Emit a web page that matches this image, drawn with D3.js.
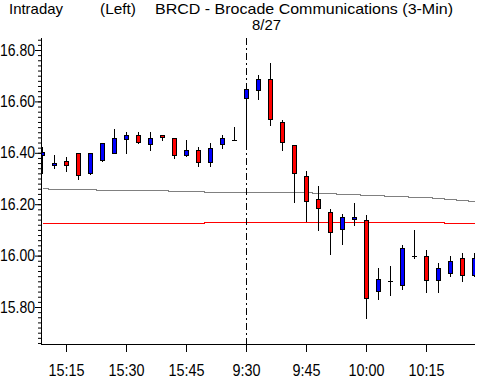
<!DOCTYPE html>
<html><head><meta charset="utf-8">
<script src="https://cdn.jsdelivr.net/npm/d3@7"></script>
<style>body{margin:0;background:#fff} svg{display:block}</style>
</head><body>
<svg id="c" width="483" height="381"></svg>
<script>
// ---- data ----
const times = ["15:09","15:12","15:15","15:18","15:21","15:24","15:27","15:30","15:33","15:36","15:39","15:42","15:45","15:48","15:51","15:54","15:57",
               "9:30","9:33","9:36","9:39","9:42","9:45","9:48","9:51","9:54","9:57","10:00","10:03","10:06","10:09","10:12","10:15","10:18","10:21","10:24","10:27"];
const open  = [16.392,16.353,16.370,16.400,16.321,16.373,16.401,16.455,16.470,16.435,16.470,16.459,16.391,16.412,16.365,16.435,16.451,
               16.613,16.646,16.689,16.521,16.431,16.311,16.221,16.170,16.102,16.141,16.139,15.861,15.901,15.886,15.999,15.999,15.904,15.932,15.991,15.925];
const high  = [16.424,16.390,16.382,16.400,16.400,16.439,16.491,16.482,16.482,16.482,16.470,16.459,16.451,16.421,16.439,16.471,16.501,
               16.649,16.701,16.751,16.529,16.431,16.331,16.272,16.183,16.160,16.203,16.158,15.953,15.961,16.043,16.101,16.023,15.971,16.000,16.010,16.010];
const low   = [16.320,16.342,16.330,16.299,16.317,16.369,16.399,16.399,16.439,16.412,16.451,16.379,16.387,16.348,16.348,16.420,16.451,
               16.443,16.611,16.508,16.410,16.208,16.136,16.101,16.008,16.047,16.118,15.759,15.830,15.848,15.869,15.991,15.857,15.857,15.919,15.901,15.920];
const close = [16.403,16.362,16.353,16.314,16.400,16.439,16.459,16.470,16.443,16.459,16.462,16.392,16.412,16.365,16.420,16.459,16.451,
               16.649,16.689,16.533,16.443,16.322,16.213,16.184,16.091,16.151,16.151,15.834,15.909,15.901,16.031,15.999,15.904,15.953,15.979,15.925,15.992];
const avgLine = [16.263,16.259,16.259,16.259,16.259,16.255,16.255,16.255,16.255,16.255,16.255,16.251,16.251,16.251,16.2475,16.2475,16.2475,
                 16.2475,16.2475,16.2475,16.2475,16.2475,16.2475,16.2436,16.2436,16.2397,16.2397,16.2358,16.2358,16.2319,16.2319,16.228,16.228,16.2241,16.2202,16.2163,16.2125];
const refLine = [16.127,16.127,16.127,16.127,16.127,16.127,16.127,16.127,16.127,16.127,16.127,16.127,16.127,16.127,16.131,16.131,16.131,
                 16.131,16.131,16.131,16.131,16.131,16.131,16.131,16.131,16.131,16.131,16.131,16.131,16.131,16.131,16.131,16.131,16.131,16.127,16.127,16.127];
const xTickLabels = ["15:15","15:30","15:45","9:30","9:45","10:00","10:15"];
const yTickValues = [15.8,16.0,16.2,16.4,16.6,16.8];
const sessionBreak = "9:30";
const titleLeft = "Intraday", titleMid = "(Left)", titleMain = "BRCD - Brocade Communications (3-Min)", dateLabel = "8/27";

// ---- layout ----
const L = 41, R = 475, T = 38, B = 344;
const FONT = "'Liberation Sans', Arial, sans-serif";
const svg = d3.select("#c");
const x = d3.scalePoint().domain(times).range([42, 474]);
const y = d3.scaleLinear().domain([15.8, 16.8]).range([307, 50]);
const py = v => Math.round(y(v));

svg.append("defs").append("clipPath").attr("id","clip")
  .append("rect").attr("x", L).attr("y", T).attr("width", R - L).attr("height", B - T);
const plot = svg.append("g").attr("clip-path","url(#clip)");

// lines
const mkLine = d3.line().x((d,i)=>x(times[i]) + 0.5).y(d=>py(d) + 0.5).curve(d3.curveStep);
plot.append("path").attr("d", mkLine(avgLine)).attr("fill","none").attr("stroke","#808080").attr("stroke-width",1).attr("shape-rendering","crispEdges");
plot.append("path").attr("d", mkLine(refLine)).attr("fill","none").attr("stroke","#ff0000").attr("stroke-width",1).attr("shape-rendering","crispEdges");

// session break
plot.append("line").attr("x1", x(sessionBreak)+0.5).attr("x2", x(sessionBreak)+0.5).attr("y1", T).attr("y2", B)
  .attr("stroke","#000").attr("stroke-dasharray","7,3,2,3").attr("shape-rendering","crispEdges");

// candles
const idx = d3.range(times.length);
const cg = plot.append("g").attr("shape-rendering","crispEdges");
idx.forEach(i => {
  const cx = x(times[i]);
  cg.append("line").attr("x1", cx+0.5).attr("x2", cx+0.5).attr("y1", py(high[i])).attr("y2", py(low[i])+1).attr("stroke","#000");
  if (open[i] === close[i]) {
    cg.append("line").attr("x1", cx-2).attr("x2", cx+3).attr("y1", py(close[i])+0.5).attr("y2", py(close[i])+0.5).attr("stroke","#000");
  } else {
    const top = py(Math.max(open[i], close[i])), bot = py(Math.min(open[i], close[i]));
    cg.append("rect").attr("x", cx-2+0.5).attr("y", top+0.5).attr("width", 4).attr("height", Math.max(bot-top,1))
      .attr("fill", close[i] > open[i] ? "#0000ff" : "#ff0000").attr("stroke","#000").attr("stroke-width",1);
  }
});

// axes
const yAxis = svg.append("g").attr("transform", `translate(${L},0)`)
  .call(d3.axisLeft(y).tickValues(yTickValues).tickSize(6).tickSizeOuter(0).tickPadding(0).tickFormat(d3.format(".2f")));
yAxis.select(".domain").remove();
yAxis.selectAll("text").attr("font-family", FONT).attr("font-size", 16).attr("fill","#000")
  .attr("textLength", 35).attr("lengthAdjust","spacingAndGlyphs");
const yMinor = svg.append("g").attr("transform", `translate(${L},0)`)
  .call(d3.axisLeft(y).tickValues(d3.range(-7, 53).map(k => 15.8 + k*0.02)).tickSize(3).tickSizeOuter(0).tickFormat(""));
yMinor.select(".domain").remove();

const xAxis = svg.append("g").attr("transform", `translate(0,${B})`)
  .call(d3.axisBottom(x).tickValues(xTickLabels).tickSize(8).tickSizeOuter(0).tickPadding(13));
xAxis.select(".domain").remove();
xAxis.selectAll("text").attr("font-family", FONT).attr("font-size", 16).attr("fill","#000")
  .attr("textLength", d => d.length === 5 ? 36 : 28).attr("lengthAdjust","spacingAndGlyphs");

svg.append("line").attr("x1", L+0.5).attr("x2", L+0.5).attr("y1", T).attr("y2", B+1).attr("stroke","#000").attr("shape-rendering","crispEdges");
svg.append("line").attr("x1", L).attr("x2", R).attr("y1", B+0.5).attr("y2", B+0.5).attr("stroke","#000").attr("shape-rendering","crispEdges");

// titles
const tt = (txt, xx, yy, len, anchor) => svg.append("text").text(txt).attr("x", xx).attr("y", yy)
  .attr("font-family", FONT).attr("font-size", 15).attr("fill","#000").attr("text-anchor", anchor || "start")
  .attr("textLength", len).attr("lengthAdjust","spacingAndGlyphs");
tt(titleLeft, 9, 14, 54);
tt(titleMid, 100, 14, 36);
tt(titleMain, 155, 14, 298);
tt(dateLabel, 266.5, 30, 29, "middle");
</script>
</body></html>
